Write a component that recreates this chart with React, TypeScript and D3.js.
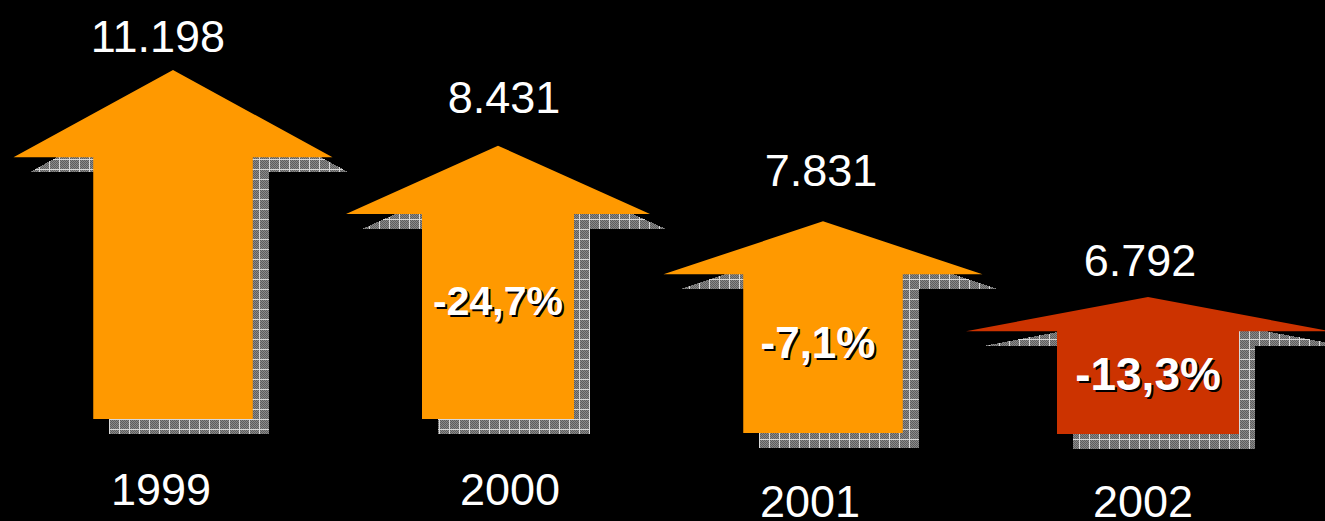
import { useEffect, useRef } from "react";
import * as d3 from "d3";

// data
const years = ["1999", "2000", "2001", "2002"];
const totals = [11198, 8431, 7831, 6792];
const changes: (number | null)[] = [null, -24.7, -7.1, -13.3];
const highlightYear = "2002";

// layout of the arrows (px) – decorative, not value driven
const arrowWidths = [319, 304, 319, 364];
const arrowBottoms = [419, 419, 433, 434];
const valueOffsets = [
  { dx: -15, dy: -18 },
  { dx: 6, dy: -33 },
  { dx: -2, dy: -35 },
  { dx: -8, dy: -21 },
];
const yearOffsets = [
  { dx: -12, y: 505 },
  { dx: 12, y: 505 },
  { dx: -13, y: 517 },
  { dx: -5, y: 517 },
];
const pctDy = [0, -6, 0, 3];
const pctSizes = [44, 41, 44, 46];

const W = 1325;
const H = 521;

const de = d3.formatLocale({
  decimal: ",",
  thousands: ".",
  grouping: [3],
  currency: ["", " €"],
  minus: "-",
});
const fmtTotal = de.format(",d");
const fmtPct = de.format(".1f");

export default function App() {
  const svgRef = useRef<SVGSVGElement>(null);

  useEffect(() => {
    if (!svgRef.current) return;
    const svg = d3.select(svgRef.current);
    svg.selectAll("*").remove();

    const x = d3.scalePoint<string>().domain(years).range([173, 1148]);
    const tip = d3.scalePoint<string>().domain(years).range([70, 297]);

    // shadow pattern: grey, fine checker, white grid
    const defs = svg.append("defs");
    const pat = defs
      .append("pattern")
      .attr("id", "hatch")
      .attr("patternUnits", "userSpaceOnUse")
      .attr("width", 10)
      .attr("height", 10);
    pat.append("rect").attr("width", 10).attr("height", 10).attr("fill", "#8a8a8a");
    for (let i = 0; i < 10; i++) {
      for (let j = 0; j < 10; j++) {
        if ((i + j) % 2 === 0) {
          pat
            .append("rect")
            .attr("x", i)
            .attr("y", j)
            .attr("width", 1)
            .attr("height", 1)
            .attr("fill", "#5e5e5e");
        }
      }
    }
    pat.append("rect").attr("x", 9).attr("y", 0).attr("width", 1).attr("height", 10).attr("fill", "#d8d8d8");
    pat.append("rect").attr("x", 0).attr("y", 9).attr("width", 10).attr("height", 1).attr("fill", "#d8d8d8");

    svg.append("rect").attr("width", W).attr("height", H).attr("fill", "#000");

    const line = d3.line();
    const arrow = (cx: number, top: number, bottom: number, w: number) => {
      const hh = (bottom - top) * 0.25;
      const pts: [number, number][] = [
        [cx, top],
        [cx + w / 2, top + hh],
        [cx + w / 4, top + hh],
        [cx + w / 4, bottom],
        [cx - w / 4, bottom],
        [cx - w / 4, top + hh],
        [cx - w / 2, top + hh],
      ];
      return line(pts) + "Z";
    };

    const g = svg.append("g");

    years.forEach((yr, i) => {
      const cx = x(yr) as number;
      const top = tip(yr) as number;
      const bottom = arrowBottoms[i];
      const w = arrowWidths[i];
      const color = yr === highlightYear ? "#cc3300" : "#ff9900";

      g.append("path")
        .attr("d", arrow(cx + 16, top + 15, bottom + 15, w))
        .attr("fill", "url(#hatch)")
        .attr("shape-rendering", "crispEdges");

      g.append("path").attr("d", arrow(cx, top, bottom, w)).attr("fill", color);

      // total value above the arrow
      g.append("text")
        .attr("x", cx + valueOffsets[i].dx)
        .attr("y", top + valueOffsets[i].dy)
        .attr("text-anchor", "middle")
        .style("font-family", "'Liberation Sans', Arial, sans-serif")
        .style("font-size", "45px")
        .style("fill", "#fff")
        .text(fmtTotal(totals[i]));

      // year below
      g.append("text")
        .attr("x", cx + yearOffsets[i].dx)
        .attr("y", yearOffsets[i].y)
        .attr("text-anchor", "middle")
        .style("font-family", "'Liberation Sans', Arial, sans-serif")
        .style("font-size", "45px")
        .style("fill", "#fff")
        .text(yr);

      const ch = changes[i];
      if (ch != null) {
        const shaftTop = top + (bottom - top) * 0.25;
        const by = (shaftTop + bottom) / 2 + 4 + pctDy[i];
        const label = fmtPct(ch) + "%";
        [
          { dx: 2, dy: 2, fill: "#000" },
          { dx: 0, dy: 0, fill: "#fff" },
        ].forEach((s) => {
          g.append("text")
            .attr("x", cx + s.dx + (i === 2 ? -5 : 0))
            .attr("y", by + s.dy)
            .attr("text-anchor", "middle")
            .style("font-family", "'Liberation Sans', Arial, sans-serif")
            .style("font-size", `${pctSizes[i]}px`)
            .style("font-weight", "bold")
            .style("fill", s.fill)
            .text(label);
        });
      }
    });
  }, []);

  return (
    <svg
      ref={svgRef}
      width={W}
      height={H}
      style={{ position: "absolute", left: 0, top: 0, display: "block" }}
    />
  );
}
